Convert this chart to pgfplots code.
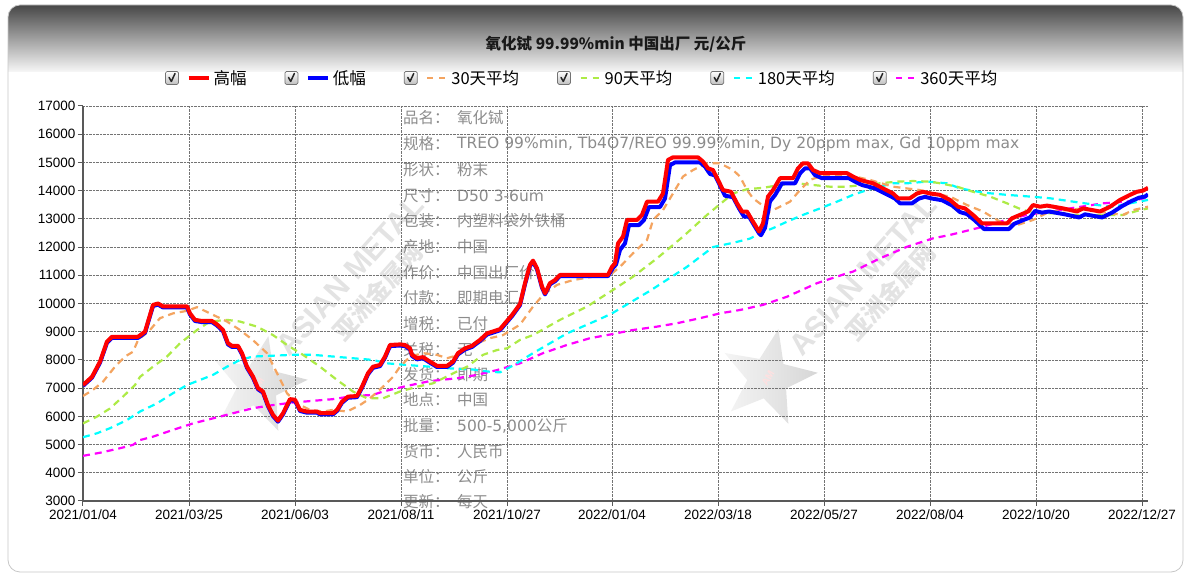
\documentclass[border=0pt]{standalone}
\usepackage{fontspec}
\usepackage{pgfplots}
\pgfplotsset{compat=1.18}
\usetikzlibrary{shapes.geometric}
\setmainfont{Liberation Sans}
\newfontfamily\cjk{Noto Sans CJK SC}
\newfontfamily\lat{DejaVu Sans}
\definecolor{c30}{RGB}{244,164,96}
\definecolor{c90}{RGB}{173,235,70}
\definecolor{c180}{RGB}{0,255,255}
\definecolor{c360}{RGB}{255,0,255}
\definecolor{infogray}{RGB}{140,140,140}
\pgfplotsset{cbline/.style={legend image code/.code={%
  \path[solid, line width=0.7pt, draw=black!55, top color=white, bottom color=black!25, rounded corners=1.5pt] (0pt,-6.5pt) rectangle (13pt,6.5pt);
  \draw[solid, line width=1.5pt, draw=black!85, line cap=round, line join=round] (3.5pt,0.5pt) -- (5.8pt,-3.5pt) -- (9.5pt,4.5pt);
  \draw[##1] (23pt,0pt) -- (43pt,0pt);
}}}
\begin{document}
\begin{tikzpicture}[x=1pt,y=1pt]
\useasboundingbox (0,0) rectangle (1189,575);
\fill[white] (0,0) rectangle (1189,575);
\begin{scope}
\clip[rounded corners=12pt] (8,3) rectangle (1183,570);
\shade[top color=black!72, bottom color=black!3] (8,503) rectangle (1183,570);
\end{scope}
\draw[black!22, line width=0.8pt, rounded corners=12pt] (8,3) rectangle (1183,570);
\node[font=\cjk\bfseries\fontsize{15.5}{18}\selectfont, text=black!90] at (616,531) {氧化铽 99.99\%min 中国出厂 元/公斤};
% watermarks
\foreach \dx in {0,513}{
  \node[rotate=48, text=black!11, font=\bfseries\fontsize{30}{32}\selectfont] at (350+\dx,300) {ASIAN METAL};
  \node[rotate=48, text=black!11, font=\cjk\bfseries\fontsize{24}{26}\selectfont] at (378+\dx,283) {亚洲金属网};
}
\node[star, star points=5, star point ratio=2.4, minimum size=100pt, inner sep=0pt, left color=black!4, right color=black!16, rotate=-12] at (258,190) {};
\node[star, star points=5, star point ratio=2.4, minimum size=100pt, inner sep=0pt, left color=black!4, right color=black!16, rotate=-12] at (768,197) {};
\node[rotate=60, text=red!12, font=\bfseries\fontsize{10}{12}\selectfont] at (258,190) {AM};
\node[rotate=60, text=red!12, font=\bfseries\fontsize{10}{12}\selectfont] at (768,197) {AM};
% info block
\begin{scope}[every node/.style={anchor=west, inner sep=0pt, text=infogray, font=\cjk\fontsize{15.5}{18}\selectfont}]
\node at (403,457) {品名：}; \node at (457,457) {氧化铽};
\node at (403,431) {规格：}; \node at (457,431) {\lat\fontsize{15.5}{18}\selectfont TREO 99\%min, Tb4O7/REO 99.99\%min, Dy 20ppm max, Gd 10ppm max};
\node at (403,405) {形状：}; \node at (457,405) {粉末};
\node at (403,379) {尺寸：}; \node at (457,379) {\lat\fontsize{15.5}{18}\selectfont D50 3-6um};
\node at (403,354) {包装：}; \node at (457,354) {内塑料袋外铁桶};
\node at (403,328) {产地：}; \node at (457,328) {中国};
\node at (403,302) {作价：}; \node at (457,302) {中国出厂价};
\node at (403,277) {付款：}; \node at (457,277) {即期电汇};
\node at (403,251) {增税：}; \node at (457,251) {已付};
\node at (403,225) {关税：}; \node at (457,225) {无};
\node at (403,200) {发货：}; \node at (457,200) {即期};
\node at (403,175) {地点：}; \node at (457,175) {中国};
\node at (403,149) {批量：}; \node at (457,149) {{\lat\fontsize{15.5}{18}\selectfont 500-5,000}公斤};
\node at (403,123) {货币：}; \node at (457,123) {人民币};
\node at (403,98) {单位：}; \node at (457,98) {公斤};
\node at (403,73) {更新：}; \node at (457,73) {每天};
\end{scope}
\begin{axis}[
  at={(83pt,74pt)}, anchor=south west,
  width=1065pt, height=395pt, scale only axis,
  xmin=0, xmax=1065, ymin=3000, ymax=17000,
  scaled y ticks=false,
  axis x line=bottom, axis y line=left,
  axis line style={-, line width=2pt, black!65},
  xtick={0,106,212,318,424,529,635,741,847,953,1059},
  xticklabels={2021/01/04,2021/03/25,2021/06/03,2021/08/11,2021/10/27,2022/01/04,2022/03/18,2022/05/27,2022/08/04,2022/10/20,2022/12/27},
  ytick={3000,4000,...,17000},
  yticklabels={3000,4000,5000,6000,7000,8000,9000,10000,11000,12000,13000,14000,15000,16000,17000},
  tick align=outside, major tick length=5pt,
  tick style={black!65, line width=1pt},
  ticklabel style={font=\fontsize{13.5}{15}\selectfont, text=black},
  yticklabel style={xshift=1pt},
  grid=major, grid style={densely dotted, black!55, line width=0.8pt},
  legend columns=6,
  legend cell align=left,
  legend style={at={(axis description cs:0.077,1.071)}, anchor=west, draw=none, fill=none, inner sep=0pt,
    font=\cjk\fontsize{16.5}{19}\selectfont,
    /tikz/every odd column/.append style={column sep=1pt},
    /tikz/every even column/.append style={column sep=36pt}},
  every axis plot/.append style={line join=round},
]
\addlegendimage{cbline, red, line width=4pt}
\addlegendentry{高幅}
\addlegendimage{cbline, blue, line width=4pt}
\addlegendentry{低幅}
\addlegendimage{cbline, c30, line width=2.2pt, dash pattern=on 6pt off 6pt}
\addlegendentry{30天平均}
\addlegendimage{cbline, c90, line width=2.2pt, dash pattern=on 6pt off 6pt}
\addlegendentry{90天平均}
\addlegendimage{cbline, c180, line width=2.2pt, dash pattern=on 6pt off 6pt}
\addlegendentry{180天平均}
\addlegendimage{cbline, c360, line width=2.2pt, dash pattern=on 6pt off 6pt}
\addlegendentry{360天平均}
% 360-day
\addplot[forget plot, c360, line width=2.2pt, dash pattern=on 7pt off 5pt] coordinates {
(0,4600)(17,4710)(37,4870)(50,4990)(57,5160)(70,5280)(90,5520)(110,5750)(130,5930)(150,6110)(170,6290)(190,6400)(210,6490)(230,6550)(250,6610)(270,6720)(290,6760)(300,6880)(324,7080)(347,7250)(374,7350)(394,7470)(414,7640)(437,7880)(460,8240)(484,8530)(507,8770)(527,8900)(550,9060)(574,9180)(594,9300)(617,9480)(637,9650)(657,9770)(680,9950)(704,10240)(734,10720)(764,11070)(770,11130)(797,11600)(824,12010)(850,12310)(867,12430)(900,12720)(917,12900)(944,13140)(987,13370)(1020,13550)(1047,13620)(1065,13760)};
% 180-day
\addplot[forget plot, c180, line width=2.2pt, dash pattern=on 7pt off 5pt] coordinates {
(0,5260)(14,5400)(27,5580)(44,5870)(57,6170)(74,6460)(90,6820)(104,7110)(117,7290)(130,7470)(144,7760)(157,8000)(170,8120)(190,8150)(210,8180)(230,8180)(250,8120)(270,8060)(290,8000)(304,7880)(324,7820)(347,7760)(367,7700)(390,7660)(407,7580)(417,7560)(430,7800)(450,8240)(484,8940)(517,9450)(529,9650)(567,10450)(604,11300)(630,12000)(650,12150)(667,12300)(677,12490)(690,12670)(704,12900)(720,13140)(737,13370)(754,13610)(770,13850)(784,14020)(797,14140)(810,14260)(824,14260)(844,14320)(864,14260)(877,14080)(900,13930)(924,13850)(947,13790)(967,13730)(990,13610)(1014,13490)(1030,13430)(1047,13550)(1065,13670)};
% 90-day
\addplot[forget plot, c90, line width=2.2pt, dash pattern=on 7pt off 5pt] coordinates {
(0,5750)(14,5990)(27,6280)(40,6700)(52,7110)(57,7400)(70,7760)(84,8120)(97,8590)(114,9060)(127,9360)(144,9420)(157,9360)(174,9180)(190,8880)(204,8530)(220,8180)(237,7760)(254,7290)(270,6880)(284,6640)(300,6640)(317,6880)(334,7050)(350,7170)(367,7470)(384,7760)(400,8180)(414,8350)(424,8410)(437,8710)(450,8880)(477,9420)(504,9890)(530,10480)(550,10950)(574,11600)(600,12370)(624,13140)(650,13900)(664,14050)(680,14100)(697,14200)(714,14260)(730,14200)(747,14140)(764,14140)(780,14200)(797,14260)(814,14320)(830,14340)(847,14320)(857,14260)(874,14140)(890,13960)(907,13790)(924,13550)(940,13310)(957,13200)(974,13200)(990,13140)(1007,13140)(1024,13140)(1040,13140)(1057,13310)(1065,13370)};
% 30-day
\addplot[forget plot, c30, line width=2.2pt, dash pattern=on 7pt off 5pt] coordinates {
(0,6720)(10,6940)(20,7230)(32,7760)(42,8120)(50,8290)(55,8700)(67,9060)(77,9480)(90,9650)(104,9740)(114,9870)(127,9650)(144,9360)(157,9060)(170,8700)(184,8240)(194,7530)(204,6820)(214,6460)(227,6230)(240,6170)(250,6230)(264,6170)(277,6400)(287,6640)(300,7050)(310,7400)(317,7760)(327,8120)(340,8240)(354,8180)(364,8060)(370,8120)(380,8290)(394,8590)(407,8770)(420,8880)(437,9250)(450,9890)(460,10300)(474,10660)(490,10830)(510,10950)(527,11010)(537,11300)(550,11780)(564,12250)(570,12960)(580,13310)(590,13900)(600,14500)(610,14730)(624,14970)(637,14970)(650,14730)(657,14500)(664,14020)(670,13730)(679,13490)(687,13260)(697,13430)(707,13610)(717,14020)(727,14380)(737,14500)(764,14560)(787,14380)(810,14140)(837,14020)(850,13900)(867,13790)(884,13490)(900,13260)(917,12900)(934,12780)(950,12960)(967,13260)(984,13310)(1000,13370)(1014,13260)(1027,13200)(1040,13140)(1050,13310)(1065,13430)};
% low
\addplot[forget plot, blue, line width=4pt] coordinates {
(0,7080)(9,7370)(17,7900)(24,8610)(29,8780)(55,8780)(62,8960)(70,9910)(75,9960)(80,9860)(104,9860)(107,9610)(112,9380)(119,9340)(129,9340)(134,9220)(140,9020)(145,8550)(149,8460)(155,8460)(159,8200)(164,7720)(170,7370)(175,6960)(180,6840)(185,6360)(190,6010)(195,5810)(200,6070)(207,6570)(212,6550)(217,6190)(224,6130)(234,6130)(237,6070)(250,6070)(254,6190)(259,6480)(265,6660)(274,6680)(279,7010)(285,7490)(290,7720)(297,7780)(302,8080)(307,8490)(317,8510)(322,8490)(327,8370)(329,8140)(334,8020)(340,8060)(347,7900)(354,7750)(364,7750)(370,7900)(375,8200)(382,8370)(389,8460)(397,8670)(404,8900)(417,9050)(422,9260)(429,9550)(437,9940)(442,10680)(447,11330)(450,11480)(454,11210)(459,10560)(462,10320)(467,10680)(472,10790)(477,10970)(525,10970)(530,11260)(533,11380)(537,11900)(542,12130)(546,12780)(556,12780)(561,12960)(566,13420)(577,13420)(582,13720)(587,14900)(592,15000)(617,15000)(622,14850)(627,14590)(632,14540)(637,14180)(642,13820)(650,13770)(656,13370)(661,13080)(666,13080)(671,12780)(676,12490)(678,12420)(682,12680)(687,13620)(692,13840)(699,14260)(712,14260)(717,14610)(722,14790)(727,14790)(732,14550)(739,14440)(766,14440)(772,14320)(779,14200)(792,14080)(802,13900)(812,13720)(817,13550)(829,13550)(836,13720)(842,13780)(849,13720)(859,13660)(869,13480)(877,13240)(884,13170)(892,12940)(901,12640)(926,12640)(931,12820)(939,12940)(947,13050)(952,13280)(959,13220)(966,13260)(982,13160)(996,13050)(1002,13160)(1019,13050)(1029,13220)(1039,13450)(1049,13640)(1056,13750)(1062,13790)(1065,13870)};
% high
\addplot[forget plot, red, line width=4pt] coordinates {
(0,7110)(9,7400)(17,7940)(24,8650)(29,8820)(55,8820)(62,9000)(70,9950)(75,10000)(80,9900)(104,9900)(107,9650)(112,9420)(119,9380)(129,9380)(134,9260)(140,9060)(145,8590)(149,8500)(155,8500)(159,8240)(164,7760)(170,7410)(175,7000)(180,6880)(185,6400)(190,6050)(195,5850)(200,6110)(207,6610)(212,6590)(217,6230)(224,6170)(234,6170)(237,6110)(250,6110)(254,6230)(259,6520)(265,6700)(274,6720)(279,7050)(285,7530)(290,7760)(297,7820)(302,8120)(307,8530)(317,8550)(322,8530)(327,8410)(329,8180)(334,8060)(340,8100)(347,7940)(354,7790)(364,7790)(370,7940)(375,8240)(382,8410)(389,8500)(397,8710)(404,8940)(417,9090)(422,9300)(429,9590)(437,9980)(442,10720)(447,11370)(450,11520)(454,11250)(459,10600)(462,10360)(467,10720)(472,10830)(477,11010)(525,11010)(529,11300)(532,11420)(535,12130)(540,12370)(544,12960)(554,12960)(559,13140)(564,13610)(575,13610)(580,13900)(585,15090)(590,15180)(615,15180)(620,15030)(625,14790)(630,14730)(635,14380)(640,14020)(648,13960)(654,13550)(659,13260)(664,13260)(669,12960)(674,12670)(676,12550)(680,12840)(685,13790)(690,14020)(697,14440)(710,14440)(715,14790)(720,14970)(725,14970)(730,14730)(737,14620)(764,14620)(770,14500)(777,14380)(790,14260)(800,14080)(810,13900)(815,13730)(827,13730)(834,13900)(840,13960)(847,13900)(857,13850)(867,13670)(875,13430)(882,13370)(890,13140)(899,12840)(924,12840)(929,13020)(937,13140)(945,13260)(950,13490)(957,13430)(964,13470)(980,13370)(994,13260)(1000,13370)(1017,13260)(1027,13430)(1037,13670)(1047,13850)(1054,13960)(1060,14000)(1065,14100)};
\end{axis}
\end{tikzpicture}
\end{document}
